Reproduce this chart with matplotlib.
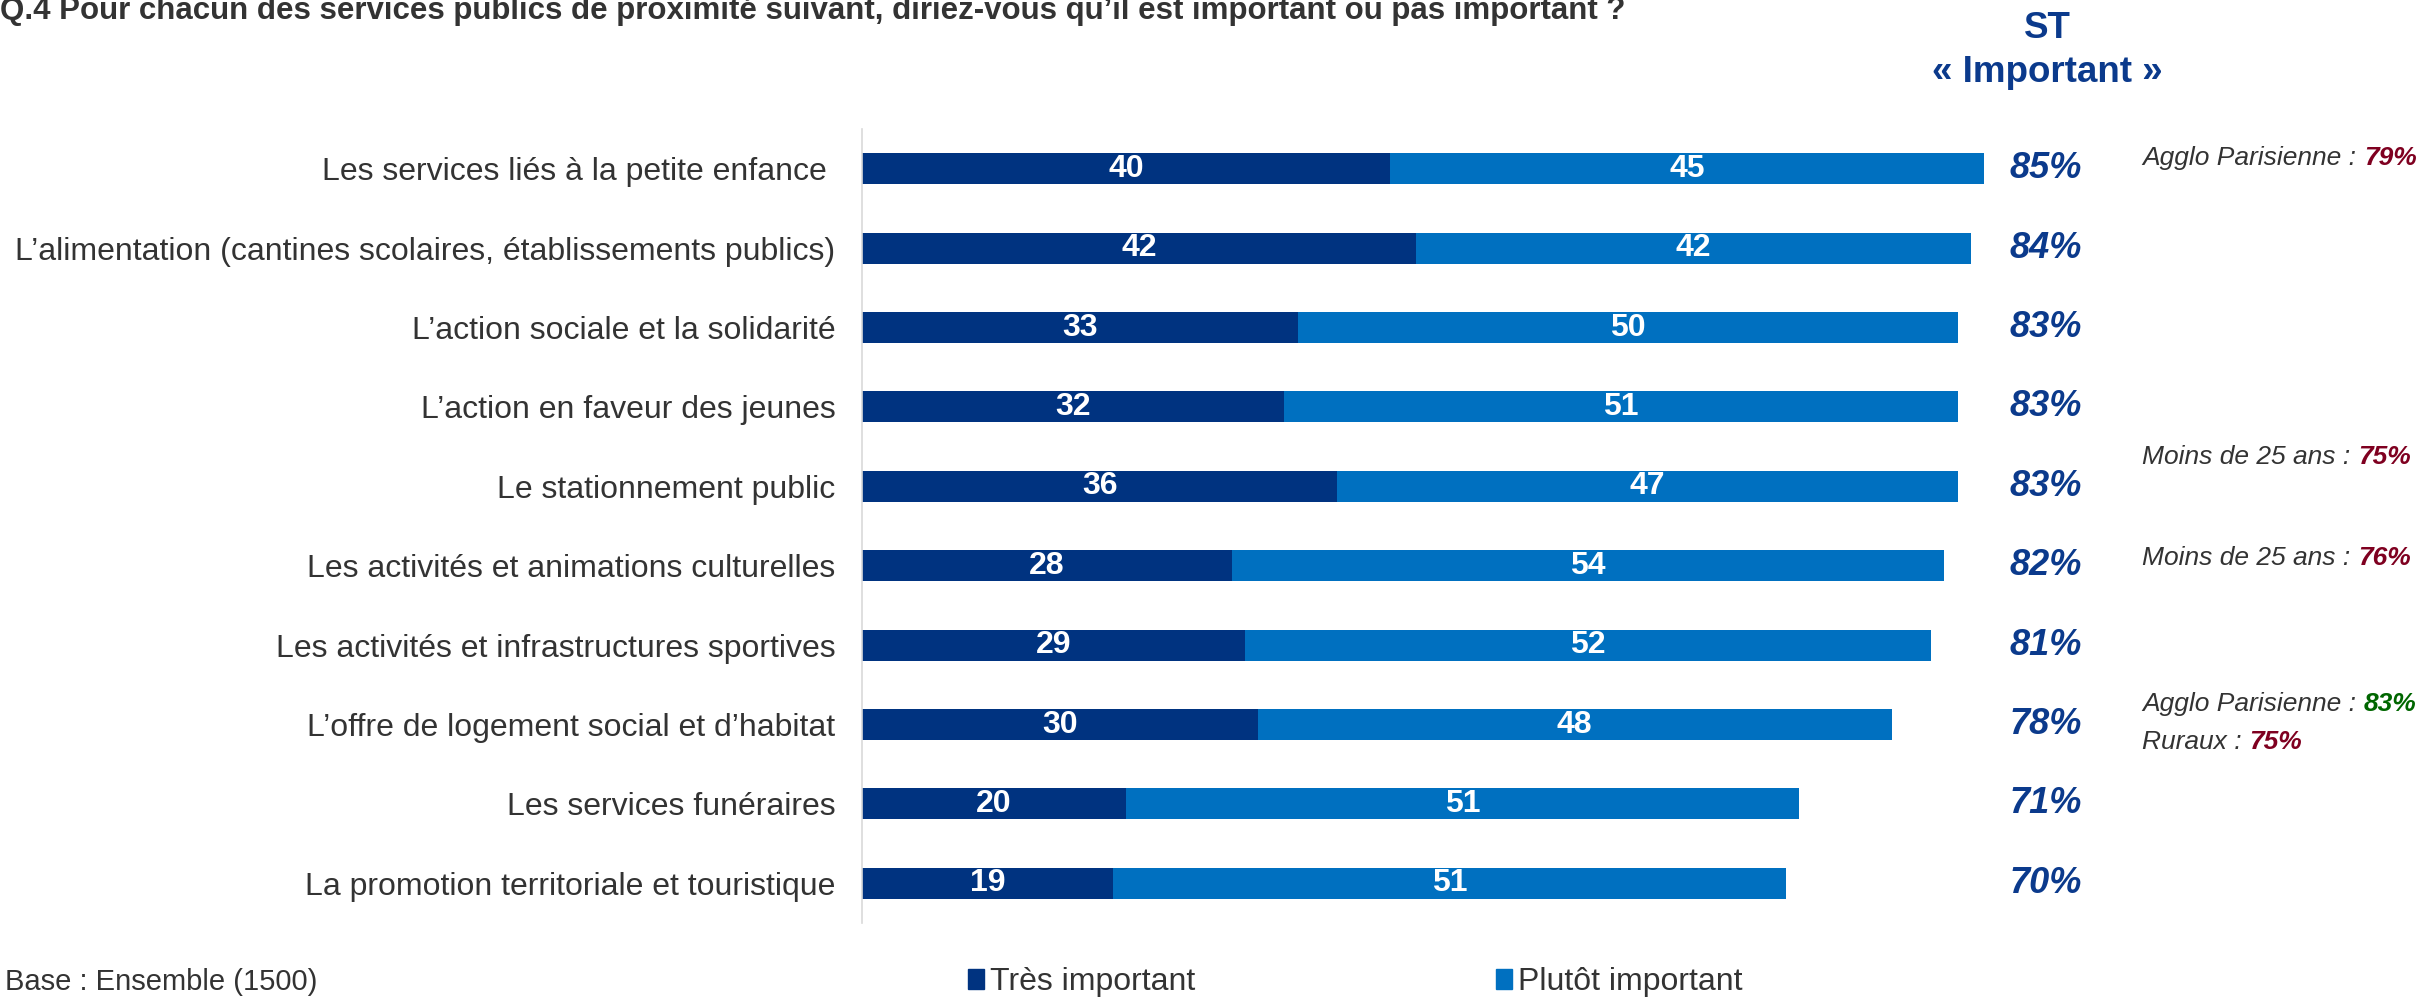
import matplotlib
matplotlib.use("Agg")
import numpy as np
from matplotlib import pyplot as plt
from matplotlib.patches import Patch

plt.rcParams['font.family'] = ['Liberation Sans', 'DejaVu Sans']

CATEGORIES = [
    "Les services liés à la petite enfance ",
    "L’alimentation (cantines scolaires, établissements publics)",
    "L’action sociale et la solidarité",
    "L’action en faveur des jeunes",
    "Le stationnement public",
    "Les activités et animations culturelles",
    "Les activités et infrastructures sportives",
    "L’offre de logement social et d’habitat",
    "Les services funéraires",
    "La promotion territoriale et touristique",
]
TRES = [40, 42, 33, 32, 36, 28, 29, 30, 20, 19]
PLUTOT = [45, 42, 50, 51, 47, 54, 52, 48, 51, 51]
ST_IMPORTANT = [85, 84, 83, 83, 83, 82, 81, 78, 71, 70]

# side notes: (row, label, value, colour of value)
NOTES = [
    (0, "Agglo Parisienne : ", "79%", "#7F0020"),
    (4, "Moins de 25 ans : ", "75%", "#7F0020"),
    (5, "Moins de 25 ans : ", "76%", "#7F0020"),
    (7, "Agglo Parisienne : ", "83%", "#006600"),
    (7, "Ruraux : ", "75%", "#7F0020"),
]
NOTE_SHIFT = [-0.14, -0.37, -0.10, -0.26, 0.22]

DARK = "#003380"
LIGHT = "#0070C0"
NAVY_TXT = "#0B3A8C"
GREY = "#333333"

fig = plt.figure(figsize=(24.28, 9.97), dpi=100)
ax = fig.add_axes([862 / 2428, 74 / 997, 1320 / 2428, 794 / 997])

y = np.arange(len(CATEGORIES))
h = 0.39
b1 = ax.barh(y, TRES, height=h, color=DARK)
b2 = ax.barh(y, PLUTOT, left=TRES, height=h, color=LIGHT)

for bars, vals in ((b1, TRES), (b2, PLUTOT)):
    for r, v in zip(bars, vals):
        ax.text(r.get_x() + r.get_width() / 2, r.get_y() + r.get_height() / 2,
                str(v), color="white", fontsize=23, fontweight="bold",
                ha="center", va="center")

ax.set_xlim(0, 100)
ax.set_ylim(len(CATEGORIES) - 0.5, -0.5)
ax.set_yticks(y)
ax.set_yticklabels(CATEGORIES, fontsize=23, color=GREY)
ax.tick_params(axis="y", length=0, pad=19)
ax.set_xticks([])
for s in ("top", "right", "bottom"):
    ax.spines[s].set_visible(False)
ax.spines["left"].set_color("#D9D9D9")
ax.spines["left"].set_linewidth(1.2)

trans = matplotlib.transforms.blended_transform_factory(ax.transAxes, ax.transData)
for i, v in enumerate(ST_IMPORTANT):
    ax.text(0.897, i, f"{v}%", transform=trans, color=NAVY_TXT, fontsize=26,
            fontweight="bold", fontstyle="italic", ha="center", va="center")

for (row, lab, val, col), dy in zip(NOTES, NOTE_SHIFT):
    t1 = ax.text(0.970, row + dy, lab, transform=trans, color=GREY, fontsize=19,
                 fontstyle="italic", ha="left", va="center")
    ax.annotate(val, xy=(1, 0), xycoords=t1, color=col, fontsize=19,
                fontweight="bold", fontstyle="italic", ha="left", va="bottom")

fig.text(2047 / 2428, 1 - 28 / 997, "ST", color=NAVY_TXT, fontsize=26.5,
         fontweight="bold", ha="center", va="center")
fig.text(2047 / 2428, 1 - 73 / 997, "« Important »", color=NAVY_TXT, fontsize=26.5,
         fontweight="bold", ha="center", va="center")

# question title, partly running off the top edge
fig.text(0, 1 - 19 / 997,
         "Q.4 Pour chacun des services publics de proximité suivant, "
         "diriez-vous qu’il est important ou pas important ?",
         color=GREY, fontsize=22.5, fontweight="bold", ha="left", va="baseline")

fig.text(0.002, 1 - 982 / 997, "Base : Ensemble (1500)", color=GREY,
         fontsize=21, ha="left", va="center")

handles = [Patch(color=DARK, label="Très important"),
           Patch(color=LIGHT, label="Plutôt important")]
fig.legend(handles=handles, loc="center left", ncol=2, frameon=False,
           bbox_to_anchor=(968 / 2428, 1 - 982 / 997), fontsize=23,
           handlelength=0.5, handleheight=0.6, handletextpad=0.2,
           columnspacing=9.4, labelcolor=GREY, borderaxespad=0, borderpad=0)

fig.savefig("out.png", dpi=100)
